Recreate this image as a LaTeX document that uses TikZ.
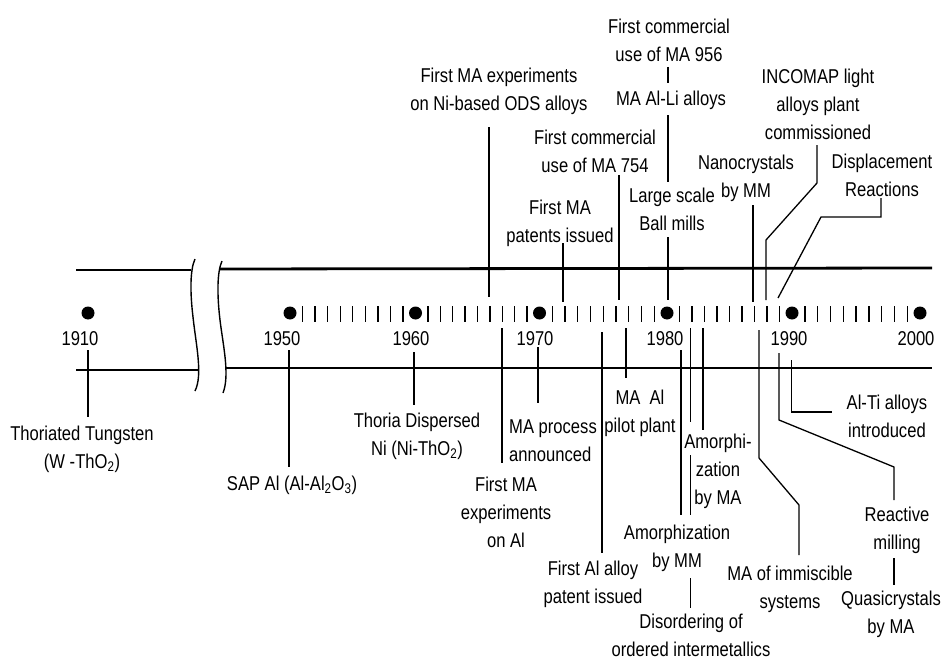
\documentclass[tikz,border=0pt]{standalone}
\usepackage{fontspec}
\setmainfont{Liberation Sans}[FakeStretch=0.83]
\begin{document}
\begin{tikzpicture}[x=1pt,y=-1pt,
  lbl/.style={font=\fontsize{20}{28}\selectfont, align=center, inner sep=0pt},
  yr/.style={font=\fontsize{20}{24}\selectfont, inner sep=0pt},
  axisline/.style={line width=2.8pt},
  ev/.style={line width=1.3pt},
  tk/.style={line width=1.4pt},
  brk/.style={line width=1.4pt},
  yeardot/.style={circle, fill=black, inner sep=0pt, minimum size=13pt}]
\useasboundingbox (0,0) rectangle (943,661);

% band lines
\draw[axisline] (76,270) -- (191,270);
\draw[axisline] (219,269) -- (932,268);
\draw[axisline] (76,370) -- (198,370);
\draw[axisline] (225,368) -- (932,368);
% break marks
\draw[brk] (195,259) .. controls (190,270) and (190,292) .. (193,317) .. controls (196,345) and (203,375) .. (195,391);
\draw[brk] (222,261) .. controls (217,272) and (217,295) .. (220,320) .. controls (223,345) and (230,375) .. (223,393);

% dots and years
\node[yeardot] (d1910) at (88,313) {};
\node[yeardot] (d1950) at (290,313) {};
\node[yeardot] (d1960) at (415.5,313) {};
\node[yeardot] (d1970) at (539.5,313) {};
\node[yeardot] (d1980) at (667,313) {};
\node[yeardot] (d1990) at (792,313) {};
\node[yeardot] (d2000) at (920,313) {};
\node[yr] (y1910) at (80,339) {1910};
\node[yr] (y1950) at (282,339) {1950};
\node[yr] (y1960) at (411,339) {1960};
\node[yr] (y1970) at (535,339) {1970};
\node[yr] (y1980) at (665,339) {1980};
\node[yr] (y1990) at (789,339) {1990};
\node[yr] (y2000) at (916,339) {2000};
% year ticks
\foreach \s/\e in {290/415.5, 415.5/539.5, 539.5/667, 667/792, 792/920}
  \foreach \i in {1,...,9}
    \draw[tk] ({\s+\i*(\e-\s)/10},306) -- ++(0,16);

% top labels
\node[lbl] (t1) at (499,91) {First MA experiments\\on Ni-based ODS alloys};
\node[lbl] (t2) at (560,223) {First MA\\patents issued};
\node[lbl] (t3) at (595,151) {First commercial\\use of MA 754};
\node[lbl] (t4) at (669,40) {First commercial\\use of MA 956};
\node[lbl] (t5) at (671,100) {MA Al-Li alloys};
\node[lbl] (t6) at (672,209) {Large scale\\Ball mills};
\node[lbl] (t7) at (746,178) {Nanocrystals\\by MM};
\node[lbl] (t8) at (818,104) {INCOMAP light\\alloys plant\\commissioned};
\node[lbl] (t9) at (882,175) {Displacement\\Reactions};

% bottom labels
\node[lbl] (b1) at (82,449) {Thoriated Tungsten\\(W -ThO\textsubscript{2})};
\node[lbl] (b2) at (292,485) {SAP Al (Al-Al\textsubscript{2}O\textsubscript{3})};
\node[lbl] (b3) at (417,436) {Thoria Dispersed\\Ni (Ni-ThO\textsubscript{2})};
\node[lbl] (b4) at (506,512) {First MA\\experiments\\on Al};
\node[lbl, align=left] (b5) at (553,441) {MA process\\announced};
\node[lbl] (b6) at (593,584) {First Al alloy\\patent issued};
\node[lbl] (b7) at (640,413) {MA\ \ Al\\pilot plant};
\node[lbl] (b8) at (677,548) {Amorphization\\by MM};
\node[lbl] (b9) at (691,635) {Disordering of\\ordered intermetallics};
\node[lbl] (b10) at (718,471) {Amorphi-\\zation\\by MA};
\node[lbl] (b11) at (790,589) {MA of immiscible\\systems};
\node[lbl] (b12) at (897,530) {Reactive\\milling};
\node[lbl] (b13) at (891,614) {Quasicrystals\\by MA};
\node[lbl] (b14) at (887,416) {Al-Ti alloys\\introduced};

% connector end points
\coordinate (t1a) at (489,127); \coordinate (t1b) at (489,297);
\coordinate (t2a) at (563,243); \coordinate (t2b) at (563,302);
\coordinate (t3a) at (619,175); \coordinate (t3b) at (619,300);
\coordinate (t4a) at (668,67);  \coordinate (t4b) at (668,83);
\coordinate (t5a) at (668,115); \coordinate (t5b) at (668,182);
\coordinate (t6a) at (668,237); \coordinate (t6b) at (668,300);
\coordinate (t7a) at (753,205); \coordinate (t7b) at (753,302);
\coordinate (t8a) at (817,145); \coordinate (t8b) at (766,300);
\coordinate (t9a) at (881,198); \coordinate (t9b) at (778,298);

\draw[ev] (t1a) -- (t1b);
\draw[ev] (t2a) -- (t2b);
\draw[ev] (t3a) -- (t3b);
\draw[ev] (t4a) -- (t4b);
\draw[ev] (t5a) -- (t5b);
\draw[ev] (t6a) -- (t6b);
\draw[ev] (t7a) -- (t7b);
\draw[ev] (t8a) -- (817,183) -- (766,240) -- (t8b);
\draw[ev] (t9a) -- (881,217) -- (821,217) -- (t9b);

\coordinate (b1a) at (88,350);   \coordinate (b1b) at (88,417);
\coordinate (b2a) at (289,350);  \coordinate (b2b) at (289,467);
\coordinate (b3a) at (414,352);  \coordinate (b3b) at (414,405);
\coordinate (b4a) at (502,328);  \coordinate (b4b) at (502,463);
\coordinate (b5a) at (538,347);  \coordinate (b5b) at (538,403);
\coordinate (b6a) at (602,332);  \coordinate (b6b) at (602,553);
\coordinate (b7a) at (626,328);  \coordinate (b7b) at (626,378);
\coordinate (b8a) at (681,350);  \coordinate (b8b) at (681,515);
\coordinate (b8c) at (690.7,328); \coordinate (b8d) at (690.7,515);
\coordinate (b9a) at (690.7,578); \coordinate (b9b) at (690.7,608);
\coordinate (b10a) at (703,328); \coordinate (b10b) at (703,430);
\coordinate (b11a) at (759,330); \coordinate (b11b) at (799,555);
\coordinate (b12a) at (779,353); \coordinate (b12b) at (894,500);
\coordinate (b13a) at (894,558); \coordinate (b13b) at (894,585);
\coordinate (b14a) at (791.7,360); \coordinate (b14b) at (831.7,412);

\draw[ev] (b1a) -- (b1b);
\draw[ev] (b2a) -- (b2b);
\draw[ev] (b3a) -- (b3b);
\draw[ev] (b4a) -- (b4b);
\draw[ev] (b5a) -- (b5b);
\draw[ev] (b6a) -- (b6b);
\draw[ev] (b7a) -- (b7b);
\draw[ev] (b8a) -- (b8b);
\draw[ev] (b8c) -- (690.7,422) (690.7,455) -- (b8d);
\draw[ev] (b9a) -- (b9b);
\draw[ev] (b10a) -- (b10b);
\draw[ev] (b11a) -- (759,458) -- (799,505) -- (b11b);
\draw[ev] (b12a) -- (779,420) -- (894,467) -- (b12b);
\draw[ev] (b13a) -- (b13b);
\draw[ev] (b14a) -- (791.7,412) -- (b14b);
\end{tikzpicture}
\end{document}
